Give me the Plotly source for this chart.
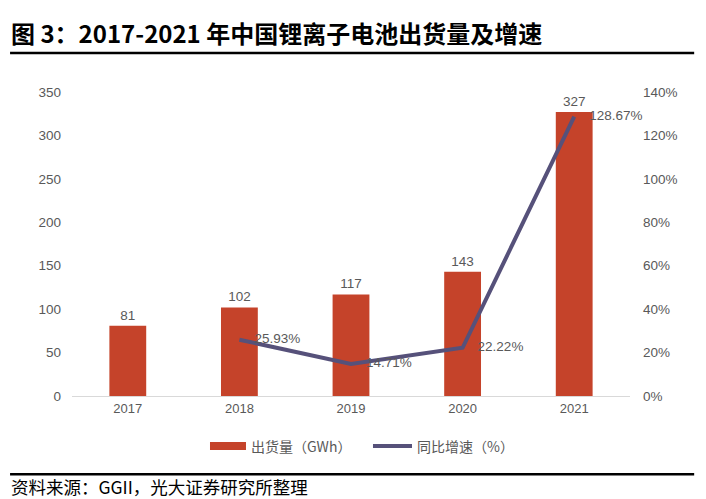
import plotly.graph_objects as go

years = ["2017", "2018", "2019", "2020", "2021"]
shipments = [81, 102, 117, 143, 327]
growth_years = ["2018", "2019", "2020", "2021"]
growth = [25.93, 14.71, 22.22, 128.67]

bar_color = "#C5432A"
line_color = "#56517A"
txt = "#595959"
font_en = "Liberation Sans, Arial, Noto Sans CJK SC"
font_cn = "Noto Sans CJK SC"

fig = go.Figure()
fig.add_trace(go.Bar(
    x=years, y=shipments, name="出货量（GWh）",
    marker=dict(color=bar_color, line=dict(width=0)), width=0.33,
    text=[str(v) for v in shipments], textposition="outside",
    textfont=dict(color=txt, size=13.5, family=font_en), cliponaxis=False,
))
fig.add_trace(go.Scatter(
    x=growth_years, y=growth, name="同比增速（%）", yaxis="y2",
    mode="lines+text", line=dict(color=line_color, width=4),
    text=["    %.2f%%" % v for v in growth], textposition="middle right",
    textfont=dict(color=txt, size=13.5, family=font_en), cliponaxis=False,
))

fig.update_layout(
    width=706, height=499,
    margin=dict(l=72, r=76, t=92, b=103),
    paper_bgcolor="white", plot_bgcolor="white",
    font=dict(family=font_en, color=txt, size=13),
    showlegend=False,
    xaxis=dict(showgrid=False, showline=True, linecolor="#D9D9D9", linewidth=1,
               ticks="", tickfont=dict(size=13, color=txt), zeroline=False),
    yaxis=dict(range=[0, 350], dtick=50, showgrid=False, zeroline=False, showline=False,
               tickfont=dict(size=13.5, color=txt), ticklabelstandoff=10),
    yaxis2=dict(range=[0, 140], dtick=20, overlaying="y", side="right", showgrid=False,
                zeroline=False, showline=False, ticksuffix="%",
                tickfont=dict(size=13.5, color=txt), ticklabelstandoff=12),
    bargap=0.67,
)

# custom legend
fig.add_shape(type="rect", xref="paper", yref="paper", x0=0.2473, x1=0.3118, y0=-0.1776, y1=-0.1513,
              fillcolor=bar_color, line=dict(width=0))
fig.add_annotation(text="出货量（GWh）", xref="paper", yref="paper", x=0.318, y=-0.1645,
                   xanchor="left", yanchor="middle", showarrow=False,
                   font=dict(size=14, color=txt, family=font_cn))
fig.add_shape(type="line", xref="paper", yref="paper", x0=0.5394, x1=0.6093, y0=-0.1645, y1=-0.1645,
              line=dict(color=line_color, width=4))
fig.add_annotation(text="同比增速（%）", xref="paper", yref="paper", x=0.6147, y=-0.1645,
                   xanchor="left", yanchor="middle", showarrow=False,
                   font=dict(size=14, color=txt, family=font_cn))

# title and decorative rules
fig.add_annotation(text="<b>图 3：2017-2021 年中国锂离子电池出货量及增速</b>",
                   xref="paper", yref="paper", x=-0.113, y=1.197, xanchor="left", yanchor="middle",
                   showarrow=False, font=dict(size=24, color="#000000", family=font_cn))
fig.add_shape(type="line", xref="paper", yref="paper", x0=-0.111, x1=1.115, y0=1.128, y1=1.128,
              line=dict(color="black", width=2.5))
fig.add_shape(type="line", xref="paper", yref="paper", x0=-0.111, x1=1.115, y0=-0.257, y1=-0.257,
              line=dict(color="black", width=2.5))
fig.add_annotation(text="资料来源：GGII，光大证券研究所整理",
                   xref="paper", yref="paper", x=-0.113, y=-0.299, xanchor="left", yanchor="middle",
                   showarrow=False, font=dict(size=17.5, color="#000000", family=font_cn))

fig.write_html("out.html", config={"displayModeBar": False},
               post_script="document.body.style.margin='0';")
